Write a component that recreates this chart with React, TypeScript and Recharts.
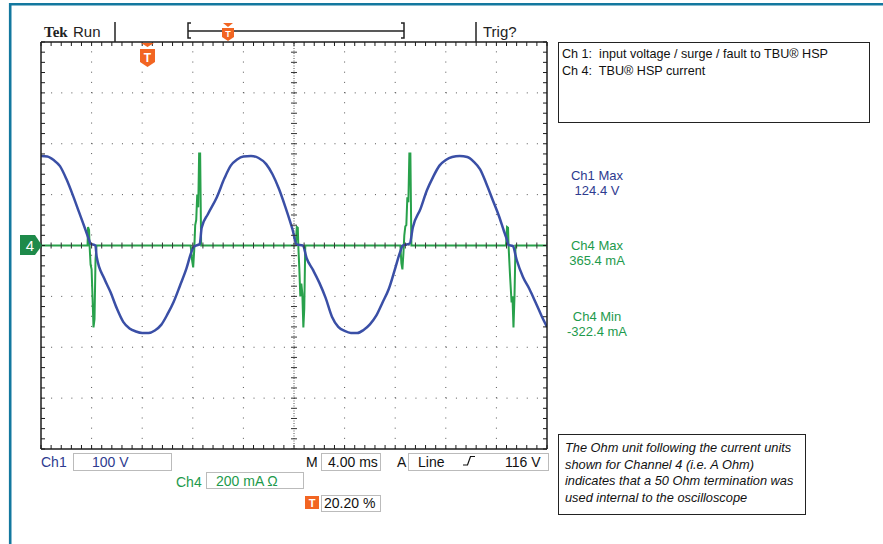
import React from "react";
import {
  ComposedChart,
  Line,
  XAxis,
  YAxis,
  ReferenceLine,
  Scatter,
} from "recharts";

// ---- Data (time in ms, Ch1 in V, Ch4 in mA) ----
const ch1Time = [
  0.0, 0.5, 1.0, 1.5, 2.0, 2.5, 3.0, 3.5, 3.84, 3.9, 4.3, 4.4, 5.0, 5.5, 6.0, 6.5, 7.0, 7.5, 8.0, 8.5,
  9.0, 9.5, 10.0, 10.5, 11.0, 11.5, 11.9, 12.1, 12.55, 12.7, 13.2, 13.9, 14.5, 15.0, 15.5, 16.0, 16.6,
  17.2, 17.8, 18.3, 18.8, 19.3, 19.9, 20.2, 20.7, 21.0, 21.5, 22.0, 22.5, 23.0, 23.5, 24.0, 24.5, 25.0,
  25.5, 26.0, 26.5, 27.0, 27.5, 28.0, 28.4, 28.6, 29.15, 29.4, 30.0, 30.5, 31.0, 31.5, 32.0, 32.5, 33.1,
  33.7, 34.2, 34.7, 35.2, 35.7, 36.2, 36.6, 36.85, 36.95, 37.3, 37.6, 38.1, 38.6, 39.1, 39.6, 40.0,
];
const ch1Volts = [
  176, 175, 168, 156, 131, 100, 66, 32, 8, 4, 0, -22, -65, -92, -124, -150, -163, -169, -172, -172,
  -167, -156, -135, -110, -78, -45, -12, -2, 3, 35, 62, 95, 132, 157, 169, 175, 176,
  172, 160, 140, 112, 77, 30, 2, 0, -25, -48, -73, -103, -140, -160, -168, -172, -172,
  -166, -155, -138, -112, -85, -45, -12, 0, 4, 36, 72, 108, 135, 157, 168, 174, 176,
  174, 165, 150, 122, 90, 58, 28, 10, 1, -1, -28, -62, -85, -112, -140, -160,
];

const ch4Time = [
  0, 3.68, 3.72, 3.8, 3.84, 3.92, 4.0, 4.08, 4.15, 4.23, 4.31, 4.39,
  11.83, 11.95, 12.03, 12.11, 12.19, 12.27, 12.35, 12.43, 12.5, 12.58, 12.66,
  20.14, 20.22, 20.3, 20.34, 20.42, 20.5, 20.58, 20.66, 20.74, 20.81, 20.89,
  28.41, 28.49, 28.57, 28.65, 28.72, 28.8, 28.88, 28.96, 29.04, 29.12, 29.2, 29.28,
  36.76, 36.84, 36.92, 36.96, 37.08, 37.2, 37.27, 37.35, 37.43, 37.51, 40,
];
const ch4MilliAmps = [
  0, 0, 73, 60, 0, -75, -94, -212, -322, -290, -55, 0,
  0, -60, -86, -20, 80, 100, 200, 150, 362, 362, 0,
  0, 73, 70, 0, -90, -200, -150, -190, -322, -250, 0,
  0, -70, -94, -30, 40, 75, 80, 190, 170, 362, 362, 0,
  0, 73, 70, 0, -120, -224, -200, -322, -200, 0, 0,
];

const timeDomain = [0, 40]; // 4.00 ms/div, 10 div
const voltDomain = [-400, 400]; // 100 V/div, 8 div
const ampDomain = [-800, 800]; // 200 mA/div, 8 div
const majorTimes = [4, 8, 12, 16, 24, 28, 32, 36];
const majorVolts = [-300, -200, -100, 100, 200, 300];
const minorTimes = Array.from({ length: 51 }, (_, i) => +(i * 0.8).toFixed(2));
const minorVolts = Array.from({ length: 41 }, (_, i) => -400 + i * 20);

const ch1Points = ch1Time.map((t, i) => ({ t, v: ch1Volts[i] }));
const ch4Points = ch4Time.map((t, i) => ({ t, v: ch4MilliAmps[i] }));
const centerHTicks = minorTimes.map((t) => ({ t, v: 0 }));
const centerVTicks = minorVolts.map((v) => ({ t: 20, v }));

const BLUE = "#3a4fa6";
const GREEN = "#28a14b";
const BLUE_TXT = "#2e3b8f";
const GREEN_TXT = "#1d9a4c";
const ORANGE = "#f26522";
const FRAME = "#1c1c1c";
const SANS = "'Liberation Sans', Arial, sans-serif";

const VTick = (p: any) => (
  <line x1={p.cx} x2={p.cx} y1={p.cy - 3} y2={p.cy + 3} stroke="#333" strokeWidth={1} />
);
const HTick = (p: any) => (
  <line x1={p.cx - 3} x2={p.cx + 3} y1={p.cy} y2={p.cy} stroke="#333" strokeWidth={1} />
);
const NoLabel = () => <g />;

const T = (props: any) => (
  <text fontFamily={SANS} fontSize={14} {...props} />
);

const axisCommon = {
  interval: 0 as const,
  mirror: true,
  tick: NoLabel,
  tickSize: 4,
  stroke: FRAME,
  axisLine: { stroke: FRAME, strokeWidth: 1.5 },
  tickLine: { stroke: FRAME, strokeWidth: 1 },
  allowDataOverflow: true,
};

export default function App() {
  return (
    <div style={{ position: "absolute", left: 0, top: 0, width: 883, height: 544, background: "#fff" }}>
      <div style={{ position: "absolute", left: 0, top: 0 }}>
        <ComposedChart
          width={883}
          height={544}
          margin={{ top: 42, left: 41, right: 336, bottom: 95 }}
        >
          <XAxis xAxisId="b" dataKey="t" type="number" domain={timeDomain} ticks={minorTimes} orientation="bottom" {...axisCommon} />
          <XAxis xAxisId="t" dataKey="t" type="number" domain={timeDomain} ticks={minorTimes} orientation="top" {...axisCommon} />
          <YAxis yAxisId="v" dataKey="v" type="number" domain={voltDomain} ticks={minorVolts} orientation="left" {...axisCommon} />
          <YAxis yAxisId="r" dataKey="v" type="number" domain={voltDomain} ticks={minorVolts} orientation="right" {...axisCommon} />
          <YAxis yAxisId="i" dataKey="v" type="number" domain={ampDomain} hide allowDataOverflow />

          {majorTimes.map((x) => (
            <ReferenceLine
              key={"gx" + x}
              x={x}
              xAxisId="b"
              yAxisId="v"
              stroke="#555"
              strokeWidth={1}
              strokeDasharray="1 9.17"
            />
          ))}
          {majorVolts.map((y) => (
            <ReferenceLine
              key={"gy" + y}
              y={y}
              xAxisId="b"
              yAxisId="v"
              stroke="#555"
              strokeWidth={1}
              strokeDasharray="1 9.12"
            />
          ))}
          <ReferenceLine x={20} xAxisId="b" yAxisId="v" stroke="#555" strokeWidth={1} strokeDasharray="1 1.5" />
          <ReferenceLine y={0} xAxisId="b" yAxisId="v" stroke="#555" strokeWidth={1} strokeDasharray="1 1.5" />
          <Scatter data={centerHTicks} xAxisId="b" yAxisId="v" dataKey="v" shape={VTick} isAnimationActive={false} />
          <Scatter data={centerVTicks} xAxisId="b" yAxisId="v" dataKey="v" shape={HTick} isAnimationActive={false} />

          <Line
            data={ch4Points}
            dataKey="v"
            xAxisId="b"
            yAxisId="i"
            type="linear"
            stroke={GREEN}
            strokeWidth={2}
            dot={false}
            isAnimationActive={false}
          />
          <Line
            data={ch1Points}
            dataKey="v"
            xAxisId="b"
            yAxisId="v"
            type="monotone"
            stroke={BLUE}
            strokeWidth={2.5}
            dot={false}
            isAnimationActive={false}
          />
        </ComposedChart>
      </div>

      <svg
        width={883}
        height={544}
        style={{ position: "absolute", left: 0, top: 0, pointerEvents: "none" }}
      >
        {/* outer frame */}
        <line x1={10.2} y1={3} x2={10.2} y2={544} stroke="#13789f" strokeWidth={2.6} />
        <line x1={9} y1={4.3} x2={883} y2={4.3} stroke="#13789f" strokeWidth={2.6} />

        {/* header */}
        <text x={44} y={36.5} fontFamily="'Liberation Serif', serif" fontWeight="bold" fontSize={15} fill="#222">
          Tek
        </text>
        <T x={73} y={36.5} fontSize={15} fill="#222">Run</T>
        <line x1={115} y1={22} x2={115} y2={42} stroke="#222" strokeWidth={1.5} />
        <path d="M191 23 H188 V38 H191" fill="none" stroke="#222" strokeWidth={1.5} />
        <line x1={188} y1={31} x2={404} y2={31} stroke="#222" strokeWidth={1.5} />
        <path d="M401 23 H404 V38 H401" fill="none" stroke="#222" strokeWidth={1.5} />
        <polygon points="223,23 233,23 228,27" fill={ORANGE} />
        <polygon points="222,28 234,28 234,37 228,41 222,37" fill={ORANGE} />
        <text x={228} y={37} textAnchor="middle" fontFamily={SANS} fontWeight="bold" fontSize={9} fill="#fff">T</text>
        <line x1={476} y1={22} x2={476} y2={42} stroke="#222" strokeWidth={1.5} />
        <T x={483} y={37} fontSize={15} fill="#222">Trig?</T>

        {/* trigger position marker */}
        <polygon points="141,43 154,43 147.5,47" fill={ORANGE} />
        <polygon points="140,49 155,49 155,62 147.5,67 140,62" fill={ORANGE} />
        <text x={147.5} y={62} textAnchor="middle" fontFamily={SANS} fontWeight="bold" fontSize={12} fill="#fff">T</text>

        {/* ch4 ground marker */}
        <polygon points="20,235 35,235 42,245.5 35,255 20,255" fill="#1e8a4a" />
        <text x={30} y={251} textAnchor="middle" fontFamily={SANS} fontSize={15} fill="#fff">4</text>

        {/* info box */}
        <rect x={558.5} y={42.5} width={311} height={80} fill="#fff" stroke="#222" strokeWidth={1} />
        <T x={562} y={58} fontSize={12.6} fill="#111">{"Ch 1:\u00a0 input voltage / surge / fault to TBU® HSP"}</T>
        <T x={562} y={75} fontSize={12.6} fill="#111">{"Ch 4:\u00a0 TBU® HSP current"}</T>

        {/* measurements */}
        <T x={597} y={179.5} fontSize={13} textAnchor="middle" fill={BLUE_TXT}>Ch1 Max</T>
        <T x={597} y={194.5} fontSize={13} textAnchor="middle" fill={BLUE_TXT}>124.4 V</T>
        <T x={597} y={250} fontSize={13} textAnchor="middle" fill={GREEN_TXT}>Ch4 Max</T>
        <T x={597} y={265} fontSize={13} textAnchor="middle" fill={GREEN_TXT}>365.4 mA</T>
        <T x={597} y={320.5} fontSize={13} textAnchor="middle" fill={GREEN_TXT}>Ch4 Min</T>
        <T x={597} y={335.5} fontSize={13} textAnchor="middle" fill={GREEN_TXT}>-322.4 mA</T>

        {/* bottom readouts */}
        <T x={41} y={467} fill={BLUE_TXT}>Ch1</T>
        <rect x={73.5} y={453.5} width={98} height={17} fill="#fff" stroke="#bbb" />
        <T x={92} y={467} fill={BLUE_TXT}>100 V</T>

        <T x={306} y={467} fill="#111">M</T>
        <rect x={321.5} y={453.5} width={59} height={17} fill="#fff" stroke="#bbb" />
        <T x={328} y={467} fill="#111">4.00 ms</T>

        <T x={397} y={467} fill="#111">A</T>
        <rect x={408.5} y={453.5} width={140} height={17} fill="#fff" stroke="#bbb" />
        <T x={418} y={467} fill="#111">Line</T>
        <path d="M463 465 H467.5 L470.5 456.5 H475" fill="none" stroke="#111" strokeWidth={1.2} />
        <T x={505} y={467} fill="#111">116 V</T>

        <T x={176} y={487} fill={GREEN_TXT}>Ch4</T>
        <rect x={206.5} y={472.5} width={97} height={16} fill="#fff" stroke="#bbb" />
        <T x={216} y={486} fill={GREEN_TXT}>200 mA Ω</T>

        <rect x={305} y={496} width={14} height={13} fill={ORANGE} />
        <text x={312} y={507} textAnchor="middle" fontFamily={SANS} fontWeight="bold" fontSize={11} fill="#fff">T</text>
        <rect x={321.5} y={495.5} width={59} height={16} fill="#fff" stroke="#bbb" />
        <T x={324} y={508} fill="#111">20.20 %</T>

        {/* note box */}
        <rect x={558.5} y={434.5} width={247} height={80} fill="#fff" stroke="#222" strokeWidth={1} />
        <g fontFamily={SANS} fontStyle="italic" fontSize={12.8} fill="#111">
          <text x={565} y={452}>The Ohm unit following the current units</text>
          <text x={565} y={468.5}>shown for Channel 4 (i.e. A Ohm)</text>
          <text x={565} y={485}>indicates that a 50 Ohm termination was</text>
          <text x={565} y={501.5}>used internal to the oscilloscope</text>
        </g>
      </svg>
    </div>
  );
}
